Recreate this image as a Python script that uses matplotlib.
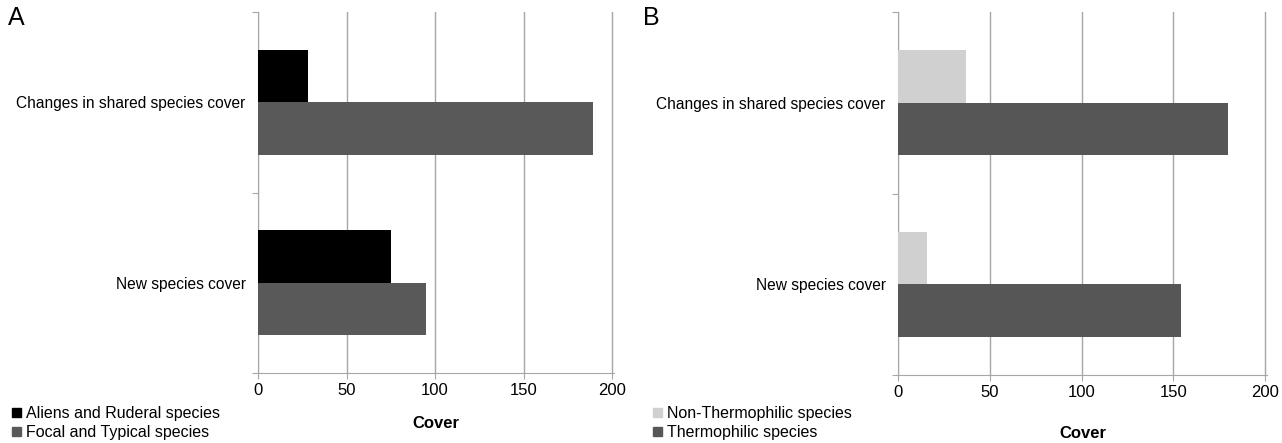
import matplotlib.pyplot as plt
from matplotlib.patches import Patch

plt.rcParams['font.family'] = ['Liberation Sans', 'DejaVu Sans']

# data
categories = ['New species cover', 'Changes in shared species cover']
aliens = [75, 28]
focal = [95, 189]
non_thermo = [16, 37]
thermo = [154, 180]
ticks = [0, 50, 100, 150, 200]

fig = plt.figure(figsize=(12.82, 4.43), dpi=100)
axA = fig.add_axes([258 / 1282, 1 - 373 / 443, 356 / 1282, 361 / 443])
axB = fig.add_axes([898 / 1282, 1 - 375 / 443, 369 / 1282, 363 / 443])

grid_col = '#a6a6a6'
h = 0.29


def panel(ax, s1, s2, c1, c2, label_y):
    y = list(range(len(categories)))
    ax.barh([v + h / 2 for v in y], s1, height=h, color=c1, zorder=3)
    ax.barh([v - h / 2 for v in y], s2, height=h, color=c2, zorder=3)
    ax.set_xlim(0, 201)
    ax.set_ylim(-0.5, len(categories) - 0.5)
    ax.set_xticks(ticks)
    ax.set_xticklabels([str(t) for t in ticks], fontsize=12)
    ax.set_yticks([v - 0.5 for v in y] + [len(categories) - 0.5])
    ax.set_yticklabels([])
    ax.set_yticks(y, minor=True)
    ax.set_yticklabels(categories, minor=True, fontsize=11.2)
    ax.tick_params(axis='y', which='minor', length=0, pad=9)
    ax.tick_params(axis='y', which='major', length=4, color=grid_col)
    ax.tick_params(axis='x', length=4, color=grid_col, pad=3)
    ax.grid(axis='x', color=grid_col, linewidth=1, zorder=0)
    for s in ['top', 'right']:
        ax.spines[s].set_visible(False)
    for s in ['left', 'bottom']:
        ax.spines[s].set_color(grid_col)
    ax.set_xlabel('Cover', fontsize=12, fontweight='bold')
    ax.xaxis.set_label_coords(0.5, label_y)


panel(axA, aliens, focal, '#000000', '#595959', -0.12)
panel(axB, non_thermo, thermo, '#d0d0d0', '#565656', -0.14)

fig.text(8 / 1282, 1 - 18 / 443, 'A', fontsize=18, va='center')
fig.text(643 / 1282, 1 - 18 / 443, 'B', fontsize=18, va='center')

legA = [Patch(color='#000000', label='Aliens and Ruderal species'),
        Patch(color='#595959', label='Focal and Typical species')]
legB = [Patch(color='#d0d0d0', label='Non-Thermophilic species'),
        Patch(color='#565656', label='Thermophilic species')]
fig.legend(handles=legA, loc='upper left', bbox_to_anchor=(4 / 1282, 1 - 398 / 443),
           frameon=False, fontsize=11.5, handlelength=0.55, handleheight=0.55,
           handletextpad=0.3, labelspacing=0.25, borderpad=0)
fig.legend(handles=legB, loc='upper left', bbox_to_anchor=(645 / 1282, 1 - 398 / 443),
           frameon=False, fontsize=11.5, handlelength=0.55, handleheight=0.55,
           handletextpad=0.3, labelspacing=0.25, borderpad=0)

fig.savefig('out.png', dpi=100)
